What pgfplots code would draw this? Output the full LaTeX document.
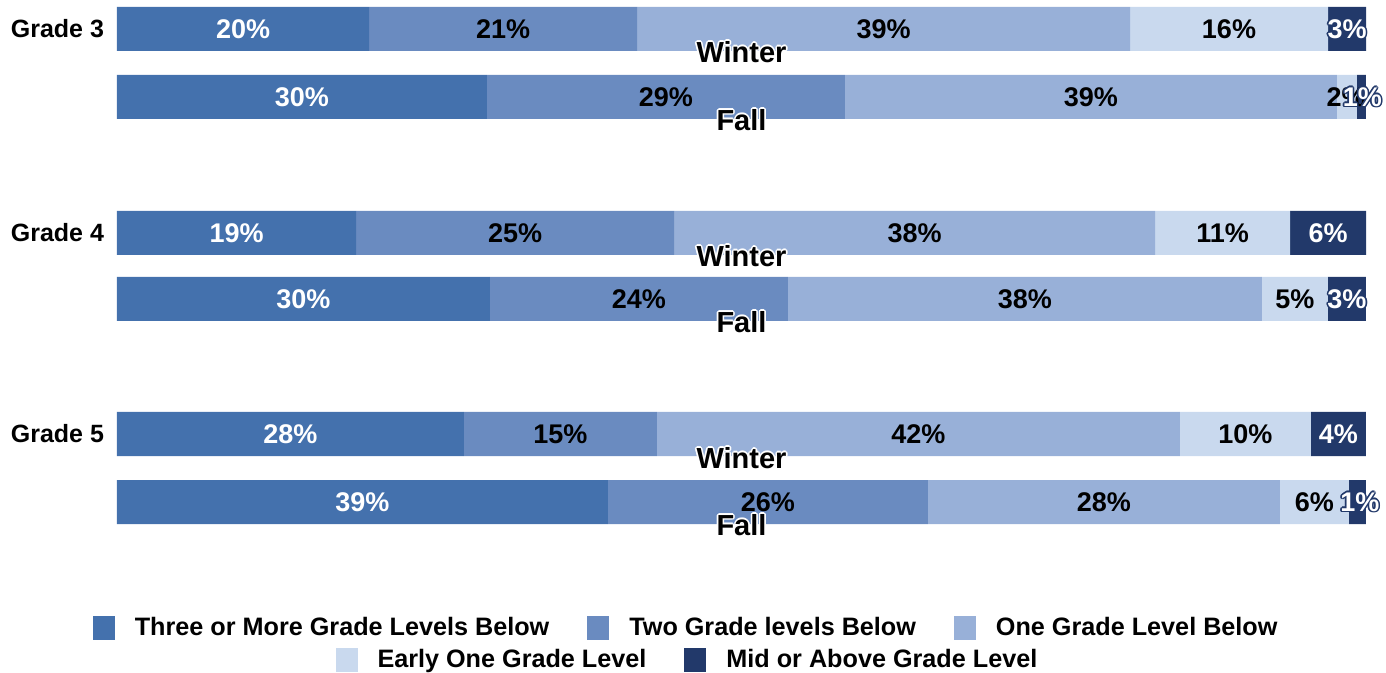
\documentclass[border=0pt]{standalone}
\usepackage{pgfplots}
\pgfplotsset{compat=1.18}
\usepackage{fontspec}
\setmainfont{Liberation Sans}
\definecolor{cA}{HTML}{4471AD}
\definecolor{cB}{HTML}{6A8BC0}
\definecolor{cC}{HTML}{98B0D8}
\definecolor{cD}{HTML}{C9D9EE}
\definecolor{cE}{HTML}{22396A}
\newcommand\halo[3]{\setbox0\hbox{#3}%
 \rlap{\color{#1}\kern-.8pt\copy0}\rlap{\color{#1}\kern.8pt\copy0}%
 \rlap{\color{#1}\raise.8pt\copy0}\rlap{\color{#1}\lower.8pt\copy0}%
 \rlap{\color{#1}\kern-.6pt\raise.6pt\copy0}\rlap{\color{#1}\kern.6pt\raise.6pt\copy0}%
 \rlap{\color{#1}\kern-.6pt\lower.6pt\copy0}\rlap{\color{#1}\kern.6pt\lower.6pt\copy0}%
 {\color{#2}\copy0}}
\newcommand\lab[4]{\node[font=\bfseries\fontsize{13.5}{16}\selectfont, text=#3, inner sep=0pt] at (axis cs:#1,#2) {#4};}
\newcommand\hlab[3]{\node[font=\bfseries\fontsize{13.5}{16}\selectfont, inner sep=0pt] at (axis cs:#1,#2) {\halo{cE}{white}{#3}};}
\newcommand\season[2]{\node[font=\bfseries\fontsize{14.5}{17}\selectfont, inner sep=0pt] at (axis cs:50,#1) {\halo{white}{black}{#2}};}
\pgfplotsset{sq legend/.style={legend image code/.code={\fill[##1] (0pt,-6pt) rectangle (11pt,6pt);}}}
\begin{document}
\begin{tikzpicture}
\begin{axis}[
 scale only axis, width=624.5pt, height=336.5pt,
 xmin=0, xmax=100, ymin=0, ymax=673, y dir=reverse,
 xbar stacked, bar width=44, clip=false,
 axis line style={draw=none},
 xtick=\empty,
 ytick={29,233,434}, yticklabels={Grade 3,Grade 4,Grade 5},
 yticklabel style={font=\bfseries\fontsize{12.5}{15}\selectfont, xshift=-3pt},
 major tick length=0pt,
 legend columns=3,
 legend cell align=left,
 legend style={at={(0.4565,0.067)}, anchor=center, draw=none, fill=none,
   font=\bfseries\fontsize{12.6}{15}\selectfont,
   /tikz/every even column/.append style={column sep=17pt},
   /tikz/every odd column/.append style={column sep=8pt}},
]
\addplot[fill=cA, draw=none, sq legend] coordinates {(20.18,29) (29.62,97) (19.14,233) (29.86,299) (27.78,434) (39.31,502)};
\addplot[fill=cB, draw=none, sq legend] coordinates {(21.46,29) (28.66,97) (25.46,233) (23.86,299) (15.45,434) (25.62,502)};
\addplot[fill=cC, draw=none, sq legend] coordinates {(39.47,29) (39.39,97) (38.51,233) (37.95,299) (41.87,434) (28.18,502)};
\addplot[fill=cD, draw=none, sq legend] coordinates {(15.85,29) (1.60,97) (10.81,233) (5.28,299) (10.49,434) (5.52,502)};
\addplot[fill=cE, draw=none, sq legend] coordinates {(3.04,29) (0.72,97) (6.08,233) (3.04,299) (4.40,434) (1.36,502)};
\legend{Three or More Grade Levels Below, Two Grade levels Below, One Grade Level Below}
\end{axis}
\begin{axis}[
 scale only axis, width=624.5pt, height=336.5pt,
 xmin=0, xmax=100, ymin=0, ymax=673, y dir=reverse, hide axis, clip=false,
 legend columns=2,
 legend cell align=left,
 legend style={at={(0.4575,0.019)}, anchor=center, draw=none, fill=none,
   font=\bfseries\fontsize{12.6}{15}\selectfont,
   /tikz/every even column/.append style={column sep=17pt},
   /tikz/every odd column/.append style={column sep=8pt}},
]
\addlegendimage{fill=cD, draw=none, sq legend}
\addlegendentry{Early One Grade Level}
\addlegendimage{fill=cE, draw=none, sq legend}
\addlegendentry{Mid or Above Grade Level}
% Grade 3 winter
\lab{10.09}{29}{white}{20\%}
\lab{30.91}{29}{black}{21\%}
\lab{61.375}{29}{black}{39\%}
\lab{89.03}{29}{black}{16\%}
\hlab{98.48}{29}{3\%}
% Grade 3 fall
\lab{14.81}{97}{white}{30\%}
\lab{43.95}{97}{black}{29\%}
\lab{77.975}{97}{black}{39\%}
\lab{98.4}{97}{black}{2\%}
\hlab{99.7}{97}{1\%}
% Grade 4 winter
\lab{9.57}{233}{white}{19\%}
\lab{31.87}{233}{black}{25\%}
\lab{63.855}{233}{black}{38\%}
\lab{88.515}{233}{black}{11\%}
\lab{96.96}{233}{white}{6\%}
% Grade 4 fall
\lab{14.93}{299}{white}{30\%}
\lab{41.79}{299}{black}{24\%}
\lab{72.695}{299}{black}{38\%}
\lab{94.31}{299}{black}{5\%}
\hlab{98.47}{299}{3\%}
% Grade 5 winter
\lab{13.89}{434}{white}{28\%}
\lab{35.505}{434}{black}{15\%}
\lab{64.165}{434}{black}{42\%}
\lab{90.345}{434}{black}{10\%}
\lab{97.79}{434}{white}{4\%}
% Grade 5 fall
\lab{19.655}{502}{white}{39\%}
\lab{52.12}{502}{black}{26\%}
\lab{79.02}{502}{black}{28\%}
\lab{95.87}{502}{black}{6\%}
\hlab{99.5}{502}{1\%}
% seasons
\season{52}{Winter}
\season{120}{Fall}
\season{256}{Winter}
\season{322}{Fall}
\season{458}{Winter}
\season{525}{Fall}
\coordinate (bbSW) at (axis cs:-9.3675,673);
\coordinate (bbNE) at (axis cs:101.601,0);
\end{axis}
\pgfresetboundingbox
\path (bbSW) rectangle (bbNE);
\end{tikzpicture}
\end{document}
